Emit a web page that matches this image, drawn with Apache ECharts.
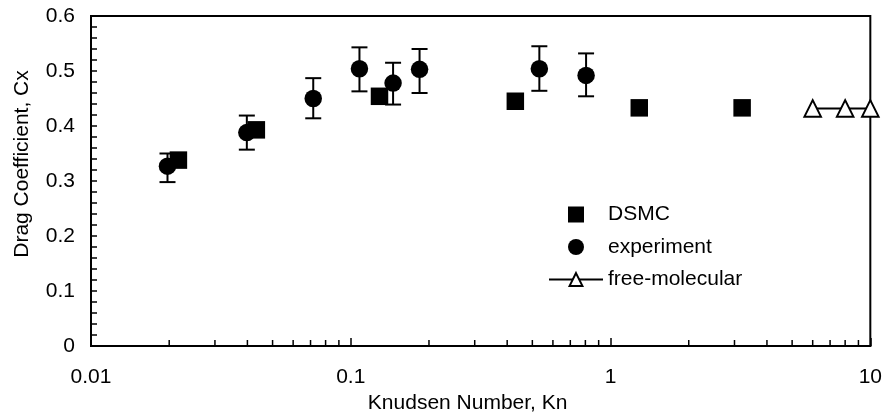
<!DOCTYPE html>
<html>
<head>
<meta charset="utf-8">
<script src="https://cdn.jsdelivr.net/npm/echarts@6/dist/echarts.min.js"></script>
<style>
  html, body { margin: 0; padding: 0; background: #fff; }
  #chart { width: 885px; height: 419px; }
</style>
</head>
<body>
<div id="chart"></div>
<script>
  // DSMC results
  var dsmcKn = [0.0217, 0.0433, 0.129, 0.43, 1.29, 3.21]
  var dsmcCx = [0.338, 0.393, 0.454, 0.445, 0.433, 0.433]

  // experiment with error bars
  var expKn = [0.0197, 0.0398, 0.0717, 0.108, 0.1455, 0.184, 0.532, 0.805]
  var expCx = [0.327, 0.388, 0.450, 0.504, 0.478, 0.503, 0.504, 0.492]
  var expLow = [0.298, 0.357, 0.414, 0.463, 0.439, 0.460, 0.464, 0.454]
  var expHigh = [0.350, 0.419, 0.487, 0.543, 0.515, 0.540, 0.545, 0.532]

  // free-molecular limit
  var freeKn = [6, 8, 10]
  var freeCx = [0.432, 0.432, 0.432]

  var xTickLabels = ['0.01', '0.1', '1', '10']
  var yTickLabels = ['0', '0.1', '0.2', '0.3', '0.4', '0.5', '0.6']
  var xMinorTicks = [0.02, 0.03, 0.04, 0.05, 0.06, 0.07, 0.08, 0.09,
                     0.2, 0.3, 0.4, 0.5, 0.6, 0.7, 0.8, 0.9,
                     2, 3, 4, 5, 6, 7, 8, 9]

  var FONT = "'Liberation Sans', Arial, sans-serif"
  var SQUARE = 'path://M0,0L10,0L10,10L0,10Z'

  var chart = echarts.init(document.getElementById('chart'))

  var option = {
    animation: false,
    textStyle: { fontFamily: FONT, color: '#000' },
    grid: {
      left: 91, right: 13, top: 16, bottom: 67,
      show: true,
      borderColor: '#000',
      borderWidth: 2
    },
    legend: {
      orient: 'vertical',
      left: 543,
      top: 199,
      itemWidth: 54,
      itemHeight: 16,
      itemGap: 11.5,
      selectedMode: false,
      textStyle: { fontSize: 21, color: '#000', fontFamily: FONT },
      data: [
        { name: 'DSMC', icon: SQUARE },
        'experiment',
        'free-molecular'
      ]
    },
    xAxis: {
      type: 'log',
      logBase: 10,
      min: 0.01,
      max: 10,
      name: 'Knudsen Number, Kn',
      nameLocation: 'middle',
      nameGap: 47,
      nameTextStyle: { fontSize: 21, color: '#000', padding: [0, 26, 0, 0] },
      axisLine: { lineStyle: { color: '#000', width: 2 } },
      axisTick: { inside: true, length: 8, lineStyle: { color: '#000', width: 1.5 } },
      axisLabel: {
        fontSize: 21, color: '#000', margin: 21,
        formatter: function (v, i) { return xTickLabels[i] }
      },
      splitLine: { show: false }
    },
    yAxis: {
      type: 'value',
      min: 0,
      max: 0.6,
      interval: 0.1,
      name: 'Drag Coefficient, Cx',
      nameLocation: 'middle',
      nameGap: 58,
      nameTextStyle: { fontSize: 21, color: '#000', padding: [0, 0, 0, 34] },
      axisLine: { show: true, lineStyle: { color: '#000', width: 2 } },
      axisTick: { show: true, inside: true, length: 6, lineStyle: { color: '#000', width: 1.5 } },
      minorTick: { show: true, splitNumber: 5, length: 6, lineStyle: { color: '#000', width: 1.5 } },
      axisLabel: {
        fontSize: 21, color: '#000', margin: 16,
        formatter: function (v, i) { return yTickLabels[i] }
      },
      splitLine: { show: false }
    },
    series: [
      {
        // minor log ticks on the x axis
        name: 'xminor',
        type: 'custom',
        silent: true,
        clip: false,
        data: xMinorTicks.map(function (v) { return [v, 0] }),
        renderItem: function (params, api) {
          var p = api.coord([api.value(0), 0])
          return {
            type: 'line',
            shape: { x1: p[0], y1: p[1], x2: p[0], y2: p[1] - 6 },
            style: { stroke: '#000', lineWidth: 1.5 }
          }
        }
      },
      {
        name: 'errorbars',
        type: 'custom',
        silent: true,
        clip: false,
        data: expKn.map(function (k, i) { return [k, expLow[i], expHigh[i]] }),
        renderItem: function (params, api) {
          var lo = api.coord([api.value(0), api.value(1)])
          var hi = api.coord([api.value(0), api.value(2)])
          var cap = 8
          var st = { stroke: '#000', lineWidth: 2 }
          return {
            type: 'group',
            children: [
              { type: 'line', shape: { x1: lo[0], y1: lo[1], x2: hi[0], y2: hi[1] }, style: st },
              { type: 'line', shape: { x1: lo[0] - cap, y1: lo[1], x2: lo[0] + cap, y2: lo[1] }, style: st },
              { type: 'line', shape: { x1: hi[0] - cap, y1: hi[1], x2: hi[0] + cap, y2: hi[1] }, style: st }
            ]
          }
        }
      },
      {
        name: 'DSMC',
        type: 'scatter',
        symbol: 'rect',
        symbolSize: 17.5,
        itemStyle: { color: '#000', opacity: 1 },
        data: dsmcKn.map(function (k, i) { return [k, dsmcCx[i]] })
      },
      {
        name: 'experiment',
        type: 'scatter',
        symbol: 'circle',
        symbolSize: 17.5,
        itemStyle: { color: '#000', opacity: 1 },
        data: expKn.map(function (k, i) { return [k, expCx[i]] })
      },
      {
        name: 'free-molecular',
        type: 'line',
        symbol: 'triangle',
        symbolSize: 16.5,
        showAllSymbol: true,
        clip: false,
        lineStyle: { color: '#000', width: 2 },
        itemStyle: { color: '#fff', borderColor: '#000', borderWidth: 2 },
        data: freeKn.map(function (k, i) { return [k, freeCx[i]] })
      }
    ]
  }

  chart.setOption(option)
</script>
</body>
</html>
